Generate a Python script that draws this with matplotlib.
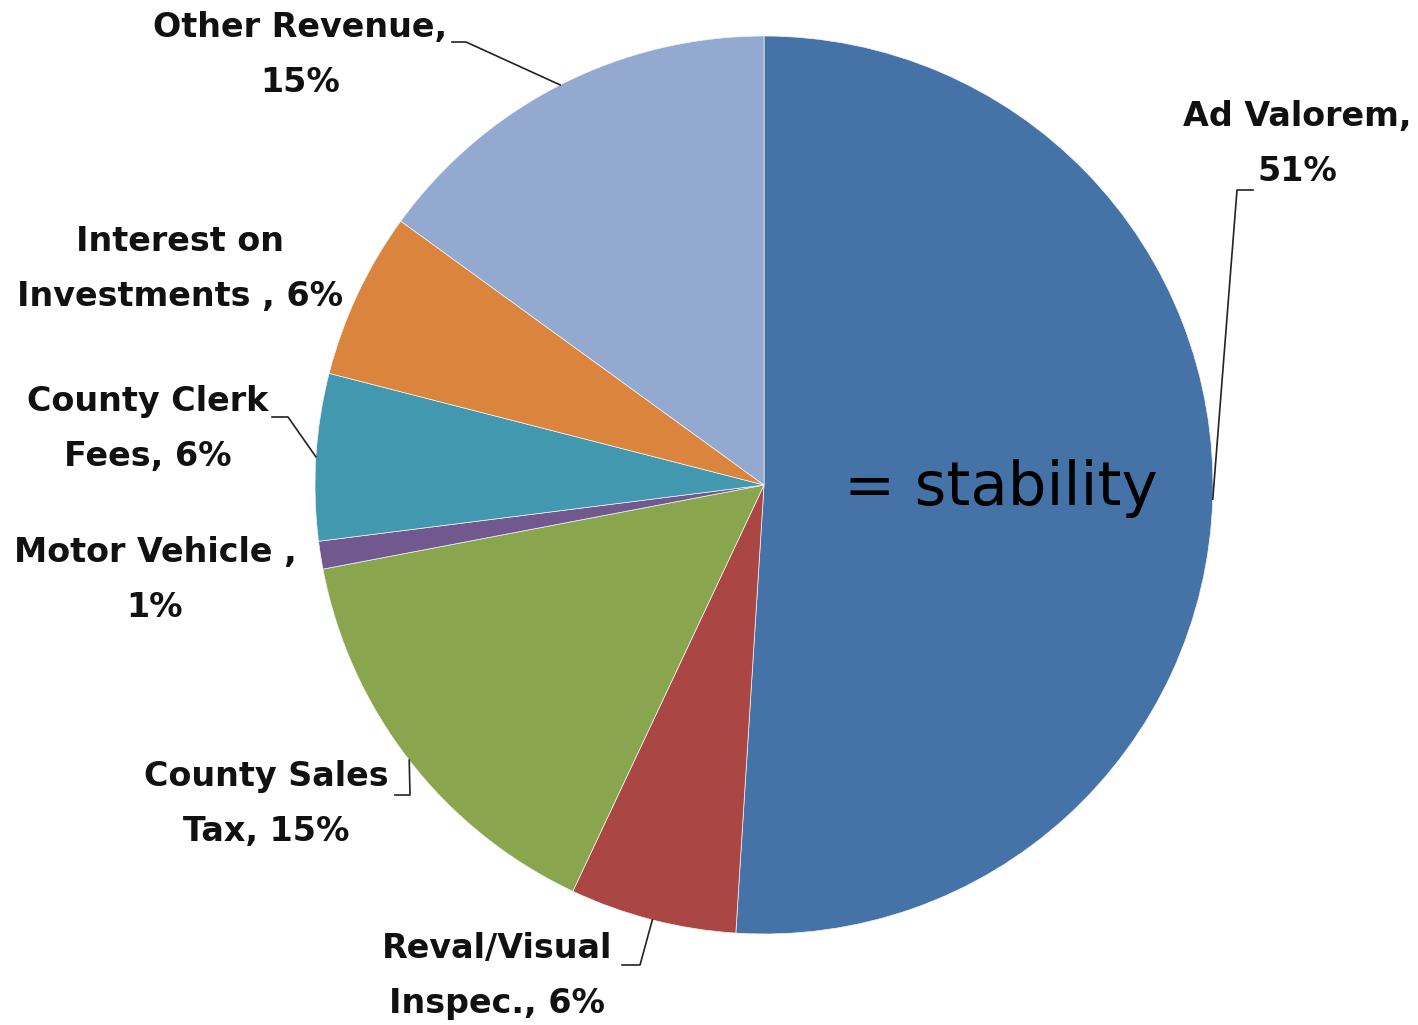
import numpy as np
import matplotlib
matplotlib.use("Agg")
import matplotlib.pyplot as plt

# revenue sources, clockwise from 12 o'clock
sources = ["Ad Valorem", "Reval/Visual Inspec.", "County Sales Tax", "Motor Vehicle",
           "County Clerk Fees", "Interest on Investments", "Other Revenue"]
shares = [51, 6, 15, 1, 6, 6, 15]
labels = ["Ad Valorem,\n51%", "Reval/Visual\nInspec., 6%", "County Sales\nTax, 15%",
          "Motor Vehicle ,\n1%", "County Clerk\nFees, 6%", "Interest on\nInvestments , 6%",
          "Other Revenue,\n15%"]
colors = ["#4572A7", "#AA4643", "#89A54E", "#71588F", "#4198AF", "#DB843D", "#93A9CF"]

W, H = 1418, 1025
CX, CY, R = 764, 485, 449

fig = plt.figure(figsize=(W / 100, H / 100), dpi=100)
fig.patch.set_facecolor("white")
ax = fig.add_axes([(CX - R) / W, (H - CY - R) / H, 2 * R / W, 2 * R / H])

wedges, _ = ax.pie(shares, colors=colors, startangle=90, counterclock=False, radius=1,
                   wedgeprops=dict(linewidth=0.5, edgecolor="#f4f4f4"))
# pie() resets the limits to +-1.25, pin them so the pie fills the axes
ax.set_xlim(-1, 1)
ax.set_ylim(-1, 1)
ax.axis("off")


def px(x, y):
    # pixel position -> data coords of the pie axes
    return (x - CX) / R, (CY - y) / R


# label block centre, then the leader line: start at the text, elbow, then to the wedge middle
label_pos = [
    ((1297, 144), [(1253, 190), (1237, 190)]),
    ((497, 976), [(622, 965), (640, 965)]),
    ((266, 804), [(395, 795), (410, 795)]),
    ((155, 580), None),
    ((148, 429), [(272, 417), (288, 417)]),
    ((180, 269), None),
    ((300, 55), [(452, 42), (466, 42)]),
]

for w, lab, (tp, leader) in zip(wedges, labels, label_pos):
    ax.text(*px(*tp), lab, ha="center", va="center", fontsize=24, fontfamily="DejaVu Sans",
            fontweight="bold", linespacing=1.86, color="#111111")
    if leader is None:
        continue
    mid = np.deg2rad((w.theta1 + w.theta2) / 2)
    xs = [px(*p)[0] for p in leader] + [np.cos(mid)]
    ys = [px(*p)[1] for p in leader] + [np.sin(mid)]
    ax.plot(xs, ys, color="#222222", lw=1.2, clip_on=False)

ax.text(*px(1001, 489), "= stability", ha="center", va="center", fontsize=44,
        fontfamily="DejaVu Sans", color="black")

fig.savefig("out.png", dpi=100)
